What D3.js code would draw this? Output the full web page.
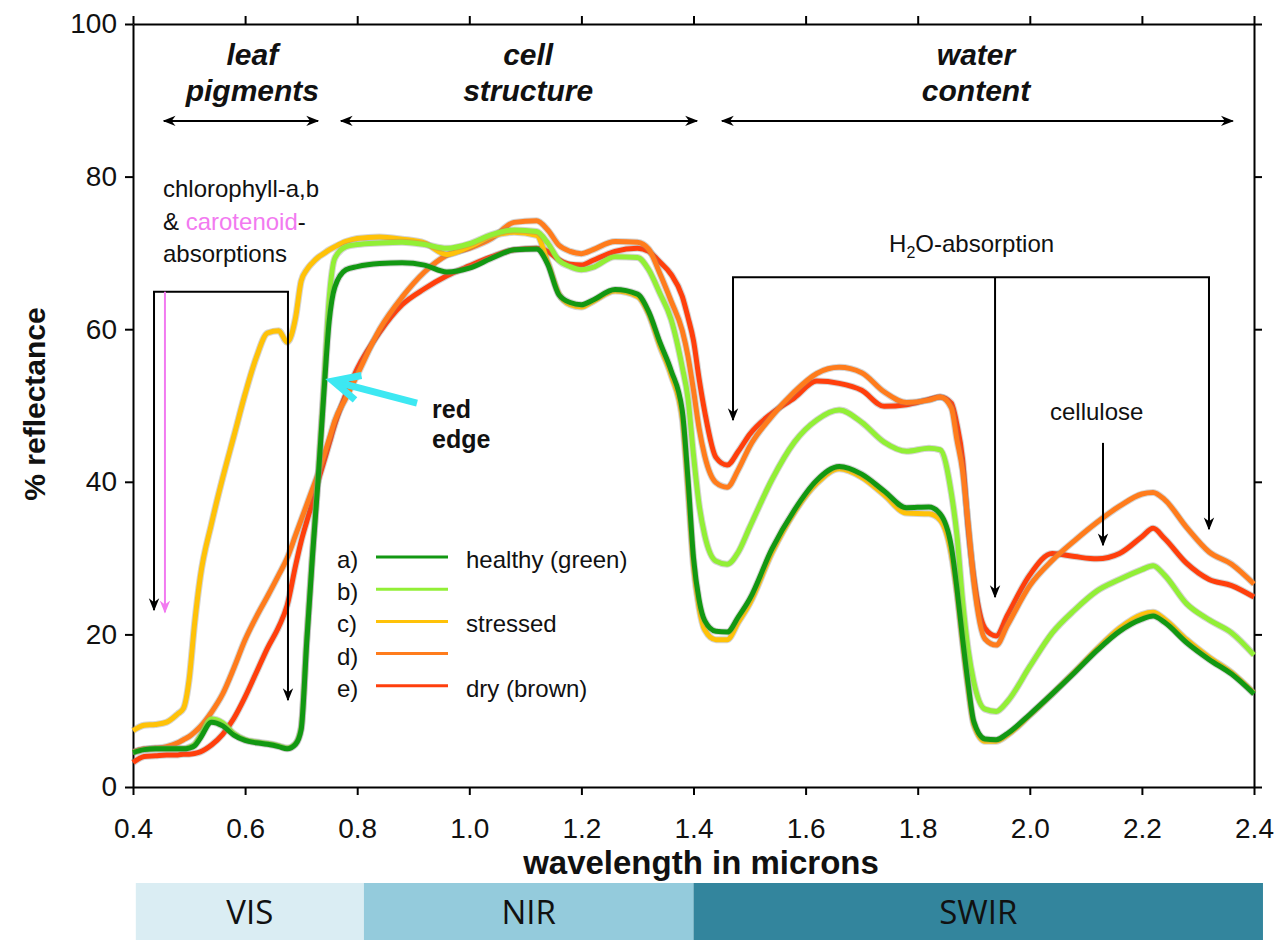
<!DOCTYPE html>
<html>
<head>
<meta charset="utf-8">
<script src="https://cdn.jsdelivr.net/npm/d3@7"></script>
<style>
  body { margin: 0; background: #fff; }
  svg text { font-family: "Liberation Sans", Arial, sans-serif; fill: #111; }
</style>
</head>
<body>
<svg id="chart" width="1284" height="940"></svg>
<script>
// wavelength grid in microns (denser where the curves change fast)
const wavelength = [
  0.40, 0.42, 0.44, 0.46, 0.48, 0.49, 0.50, 0.51, 0.52, 0.54, 0.56, 0.58, 0.60, 0.62, 0.64, 0.66, 0.675,
  0.69, 0.70, 0.71, 0.72, 0.73, 0.74, 0.75, 0.76, 0.78, 0.80,
  0.84, 0.88, 0.92, 0.96, 1.00, 1.04, 1.08, 1.12,
  1.14, 1.16, 1.18, 1.20, 1.22, 1.26, 1.30,
  1.32, 1.34, 1.36, 1.38, 1.39, 1.40, 1.41, 1.42, 1.44, 1.46, 1.48, 1.50,
  1.54, 1.58, 1.62, 1.66, 1.70, 1.74, 1.78, 1.82, 1.84,
  1.86, 1.87, 1.88, 1.89, 1.90, 1.92, 1.94, 1.96,
  2.00, 2.04, 2.08, 2.12, 2.16, 2.20, 2.22, 2.24, 2.28, 2.32, 2.36, 2.40
]

// % reflectance
const healthy = [
  4.5, 4.9, 5.0, 5.0, 5.0, 5.0, 5.1, 5.4, 6.4, 8.5, 8.0, 6.8, 6.1, 5.8, 5.6, 5.3, 5.0,
  5.6, 7.5, 19, 30, 40, 51, 61, 65.5, 67.8, 68.2,
  68.6, 68.7, 68.4, 67.5, 68.0, 69.3, 70.4, 70.5,
  68.5, 64.5, 63.5, 63.2, 63.8, 65.2, 64.6,
  62.3, 58.3, 54.6, 49.3, 40.5, 30, 24.5, 21.8, 20.4, 20.3, 22.3, 24.6,
  31.2, 36.3, 40.2, 42.0, 41.0, 38.8, 36.6, 36.7, 35.8,
  31.5, 26, 19.5, 13.5, 8.6, 6.3, 6.2, 7.0,
  9.5, 12.2, 15.0, 17.9, 20.4, 22.0, 22.4, 21.6, 18.9, 16.7, 14.8, 12.2
]
const lightGreen = [
  4.5, 4.9, 5.0, 5.0, 5.0, 5.0, 5.2, 5.6, 6.7, 8.9, 8.4, 7.0, 6.2, 5.9, 5.7, 5.4, 5.1,
  5.7, 7.8, 19.5, 30.5, 40.5, 52, 64, 69.3, 70.8, 71.1,
  71.3, 71.4, 71.1, 70.6, 71.2, 72.4, 73.0, 72.8,
  71.3, 69.0, 68.2, 67.8, 68.1, 69.5, 69.4,
  67.8, 64.7, 61.3, 55, 51, 43.5, 37, 33, 29.6, 29.2, 30.8, 34,
  40.3, 45.2, 48.1, 49.4, 47.8, 45.2, 44.0, 44.4, 44.2,
  38.5, 33, 24.5, 18, 13.8, 10.2, 9.9, 11.2,
  15.8, 20.2, 23.2, 25.7, 27.2, 28.5, 29.0, 27.8, 24.0, 21.9, 20.2, 17.3
]
const stressed = [
  7.4, 8.1, 8.2, 8.5, 9.6, 10.3, 14, 21.5, 27.5, 34.5, 40.5, 46, 51.5, 56.3, 59.5, 59.8, 58.3,
  61.5, 66.3, 67.8, 68.7, 69.4, 69.9, 70.4, 70.8, 71.5, 71.9,
  72.1, 71.8, 71.3, 69.8, 70.8, 72.2, 72.7, 72.3,
  68.8, 64.6, 63.2, 62.9, 63.6, 65.0, 64.3,
  62.0, 57.8, 54.0, 48.3, 39.2, 29, 23.5, 20.6, 19.3, 19.3, 21.6, 24.0,
  30.7, 36.0, 39.8, 41.7, 40.6, 38.3, 35.9, 35.8, 35.0,
  30.5, 25.5, 19, 13, 8.2, 6.0, 6.0, 6.8,
  9.4, 12.2, 15.1, 18.1, 20.8, 22.6, 22.9, 22.0, 19.3, 17.0, 15.0, 12.3
]
const orange = [
  4.6, 5.0, 5.1, 5.3, 5.8, 6.2, 6.6, 7.2, 7.9, 9.8, 12.2, 15.6, 19.3, 22.3, 25.0, 27.8, 30.0,
  33.0, 35.0, 37.0, 39.0, 41.0, 43.3, 45.6, 48.0, 51.0, 54.0,
  60.0, 64.2, 67.5, 69.7, 70.6, 71.9, 74.0, 74.2,
  73.0, 71.0, 70.2, 69.9, 70.4, 71.5, 71.4,
  70.5, 67.3, 63.7, 59.8, 56.5, 52, 47, 43.4, 39.9, 39.3, 41.6, 44.6,
  48.6, 51.8, 54.2, 55.0, 54.3, 51.8, 50.4, 50.7, 51.1,
  49.7, 45.5, 41.5, 34.5, 27, 19.4, 18.6, 21.2,
  26.4, 29.7, 32.3, 34.7, 36.8, 38.4, 38.6, 37.7, 34.0, 30.8, 29.2, 26.6
]
const dry = [
  3.2, 4.0, 4.1, 4.2, 4.2, 4.3, 4.3, 4.4, 4.6, 5.5, 6.9, 9.0, 11.8, 15.0, 18.2, 21.0, 23.8,
  29.0, 32.2, 34.8, 37.3, 40.0, 42.5, 45.0, 47.5, 51.5, 54.8,
  59.6, 63.2, 65.3, 67.0, 68.3, 69.5, 70.4, 70.6,
  70.2, 69.1, 68.5, 68.4, 69.0, 70.2, 70.6,
  70.2, 68.8, 67.2, 64.3, 61.6, 58.5, 53.5, 49.2, 43.2, 42.2, 44, 46.2,
  49.0, 51.0, 53.2, 52.9, 52.0, 49.9, 50.1, 50.8, 51.1,
  50.3, 47.5, 43, 34, 27.5, 20.8, 19.8, 22.5,
  27.8, 30.6, 30.2, 29.9, 30.6, 32.8, 33.9, 32.6, 29.3, 27.2, 26.4, 24.9
]

const seriesKeys = ["a)", "b)", "c)", "d)", "e)"]
const seriesText = ["healthy (green)", "", "stressed", "", "dry (brown)"]
const seriesColors = ["#129812", "#92ef36", "#ffc208", "#ff7c1c", "#ff3f0c"]

const xTicks = [0.4, 0.6, 0.8, 1.0, 1.2, 1.4, 1.6, 1.8, 2.0, 2.2, 2.4]
const yTicks = [0, 20, 40, 60, 80, 100]

const bandNames = ["VIS", "NIR", "SWIR"]
const bandEdges = [0.405, 0.812, 1.40, 2.416]
const bandColors = ["#daedf3", "#94cbdc", "#33859d"]

const svg = d3.select("#chart")
const x = d3.scaleLinear().domain([0.4, 2.4]).range([133, 1254])
const y = d3.scaleLinear().domain([0, 100]).range([787, 24])

// arrow heads
const defs = svg.append("defs")
function makeMarker(id, color) {
    defs.append("marker")
        .attr("id", id)
        .attr("viewBox", "0 0 10 10")
        .attr("refX", 9).attr("refY", 5)
        .attr("markerWidth", 13).attr("markerHeight", 13)
        .attr("markerUnits", "userSpaceOnUse")
        .attr("orient", "auto-start-reverse")
        .append("path")
            .attr("d", "M0,1 L10,5 L0,9 L3,5 Z")
            .attr("fill", color)
}
makeMarker("head", "#000")
makeMarker("headPink", "#f27af0")

// axes
const axisStyle = g => {
    g.select(".domain").attr("stroke", "#000").attr("stroke-width", 2)
    g.selectAll(".tick line").attr("stroke", "#000").attr("stroke-width", 2)
    g.selectAll(".tick text").attr("fill", "#000").style("font-size", "28px")
        .style("font-family", '"Liberation Sans", Arial, sans-serif')
}

svg.append("g")
    .attr("transform", "translate(0,787)")
    .call(d3.axisBottom(x).tickValues(xTicks).tickSize(8).tickSizeOuter(0).tickPadding(23).tickFormat(d3.format(".1f")))
    .call(axisStyle)

svg.append("g")
    .attr("transform", "translate(133,0)")
    .call(d3.axisLeft(y).tickValues(yTicks).tickSize(8).tickSizeOuter(0).tickPadding(8))
    .call(axisStyle)

svg.append("g")
    .attr("transform", "translate(0,24)")
    .call(d3.axisTop(x).tickValues(xTicks).tickSize(8).tickSizeOuter(0).tickFormat(""))
    .call(axisStyle)

svg.append("g")
    .attr("transform", "translate(1254,0)")
    .call(d3.axisRight(y).tickValues(yTicks).tickSize(8).tickSizeOuter(0).tickFormat(""))
    .call(axisStyle)

// axis titles
svg.append("text")
    .attr("transform", "translate(45,404) rotate(-90)")
    .attr("text-anchor", "middle")
    .style("font-size", "30px").style("font-weight", "bold")
    .text("% reflectance")

svg.append("text")
    .attr("x", 701).attr("y", 874)
    .attr("text-anchor", "middle")
    .style("font-size", "33px").style("font-weight", "bold")
    .text("wavelength in microns")

// spectral band bar
const bands = bandNames.map((name, i) => ({name, from: bandEdges[i], to: bandEdges[i + 1], color: bandColors[i]}))
const bandG = svg.append("g").selectAll("g").data(bands).join("g")
bandG.append("rect")
    .attr("x", d => x(d.from))
    .attr("width", d => x(d.to) - x(d.from))
    .attr("y", 883).attr("height", 57)
    .attr("fill", d => d.color)
bandG.append("text")
    .attr("x", d => (x(d.from) + x(d.to)) / 2)
    .attr("y", 924)
    .attr("text-anchor", "middle")
    .style("font-family", '"Open Sans", "Noto Sans", sans-serif')
    .style("font-size", "33px")
    .text(d => d.name)

// spectra
const allSeries = [healthy, lightGreen, stressed, orange, dry]
const lines = allSeries.map((vals, i) => ({
    key: seriesKeys[i],
    color: seriesColors[i],
    points: wavelength.map((w, j) => [w, vals[j]])
}))
const drawOrder = [4, 3, 2, 1, 0]

const line = d3.line()
    .x(d => x(d[0]))
    .y(d => y(d[1]))
    .curve(d3.curveMonotoneX)

const lineG = svg.append("g")
drawOrder.forEach(i => {
    lineG.append("path")
        .attr("d", line(lines[i].points))
        .attr("fill", "none")
        .attr("stroke", "#888")
        .attr("stroke-opacity", 0.35)
        .attr("stroke-width", 7)
        .attr("stroke-linejoin", "round")
    lineG.append("path")
        .attr("d", line(lines[i].points))
        .attr("fill", "none")
        .attr("stroke", lines[i].color)
        .attr("stroke-width", 5)
        .attr("stroke-linejoin", "round")
})

// region labels with double arrows
const regions = [
    {l1: "leaf", l2: "pigments", cx: 0.613, from: 0.455, to: 0.730},
    {l1: "cell", l2: "structure", cx: 1.105, from: 0.771, to: 1.406},
    {l1: "water", l2: "content", cx: 1.904, from: 1.451, to: 2.362}
]
const regionG = svg.append("g").selectAll("g").data(regions).join("g")
regionG.append("text")
    .attr("x", d => x(d.cx)).attr("y", y(94.6))
    .attr("text-anchor", "middle")
    .style("font-size", "30px").style("font-weight", "bold").style("font-style", "italic")
    .text(d => d.l1)
regionG.append("text")
    .attr("x", d => x(d.cx)).attr("y", y(89.9))
    .attr("text-anchor", "middle")
    .style("font-size", "30px").style("font-weight", "bold").style("font-style", "italic")
    .text(d => d.l2)
regionG.append("line")
    .attr("x1", d => x(d.from)).attr("x2", d => x(d.to))
    .attr("y1", y(87.3)).attr("y2", y(87.3))
    .attr("stroke", "#000").attr("stroke-width", 2)
    .attr("marker-start", "url(#head)").attr("marker-end", "url(#head)")

// chlorophyll / carotenoid annotation
const chl = svg.append("g")
chl.append("text").attr("x", x(0.4535)).attr("y", y(77.3)).style("font-size", "24px").text("chlorophyll-a,b")
const t2 = chl.append("text").attr("x", x(0.4535)).attr("y", y(73.0)).style("font-size", "24px")
t2.append("tspan").text("& ")
t2.append("tspan").style("fill", "#f27af0").text("carotenoid")
t2.append("tspan").text("-")
chl.append("text").attr("x", x(0.4535)).attr("y", y(68.8)).style("font-size", "24px").text("absorptions")

chl.append("path")
    .attr("d", `M${x(0.4375)},${y(23.2)} V${y(64.9)} H${x(0.6765)} V${y(11.4)}`)
    .attr("fill", "none").attr("stroke", "#000").attr("stroke-width", 2)
    .attr("marker-start", "url(#head)").attr("marker-end", "url(#head)")
chl.append("line")
    .attr("x1", x(0.457)).attr("x2", x(0.457))
    .attr("y1", y(64.9)).attr("y2", y(22.9))
    .attr("stroke", "#f27af0").attr("stroke-width", 2)
    .attr("marker-end", "url(#headPink)")

// red edge arrow
const tail = [x(0.9067), y(50.3)], tip = [x(0.7568), y(53.2)]
const ang = Math.atan2(tail[1] - tip[1], tail[0] - tip[0])
const arm = 29, spread = 0.45
const redEdge = svg.append("g")
    .attr("fill", "none").attr("stroke", "#3de8f2").attr("stroke-width", 7)
    .attr("stroke-linecap", "butt").attr("stroke-linejoin", "miter")
redEdge.append("line")
    .attr("x1", tail[0]).attr("y1", tail[1]).attr("x2", tip[0] + 3 * Math.cos(ang)).attr("y2", tip[1] + 3 * Math.sin(ang))
redEdge.append("path")
    .attr("d", `M${tip[0] + arm * Math.cos(ang - spread)},${tip[1] + arm * Math.sin(ang - spread)}
                L${tip[0]},${tip[1]}
                L${tip[0] + arm * Math.cos(ang + spread)},${tip[1] + arm * Math.sin(ang + spread)}`)
svg.append("text").attr("x", x(0.9335)).attr("y", y(48.4))
    .style("font-size", "25px").style("font-weight", "bold").text("red")
svg.append("text").attr("x", x(0.9335)).attr("y", y(44.4))
    .style("font-size", "25px").style("font-weight", "bold").text("edge")

// water absorption annotation
const h2o = svg.append("text").attr("x", x(1.749)).attr("y", y(70.1)).style("font-size", "24px")
h2o.append("tspan").text("H")
h2o.append("tspan").attr("dy", 6).style("font-size", "16px").text("2")
h2o.append("tspan").attr("dy", -6).text("O-absorption")

const waterG = svg.append("g").attr("fill", "none").attr("stroke", "#000").attr("stroke-width", 2)
waterG.append("path")
    .attr("d", `M${x(1.4705)},${y(48.1)} V${y(66.8)} H${x(2.3197)} V${y(33.8)}`)
    .attr("marker-start", "url(#head)").attr("marker-end", "url(#head)")
waterG.append("line")
    .attr("x1", x(1.938)).attr("x2", x(1.938))
    .attr("y1", y(66.8)).attr("y2", y(24.9))
    .attr("marker-end", "url(#head)")

svg.append("text").attr("x", x(2.036)).attr("y", y(48.1)).style("font-size", "24px").text("cellulose")
svg.append("line")
    .attr("x1", x(2.1306)).attr("x2", x(2.1306))
    .attr("y1", y(45.1)).attr("y2", y(31.7))
    .attr("stroke", "#000").attr("stroke-width", 2)
    .attr("marker-end", "url(#head)")

// legend
const legend = svg.append("g").attr("transform", "translate(337,568)")
const rows = legend.selectAll("g").data(lines).join("g")
    .attr("transform", (d, i) => `translate(0,${i * 32.2})`)
rows.append("text").style("font-size", "24px").text(d => d.key)
rows.append("line")
    .attr("x1", 39).attr("x2", 111)
    .attr("y1", -11).attr("y2", -11)
    .attr("stroke", d => d.color).attr("stroke-width", 3)
rows.append("text").attr("x", 129).style("font-size", "24px").text((d, i) => seriesText[i])
</script>
</body>
</html>
